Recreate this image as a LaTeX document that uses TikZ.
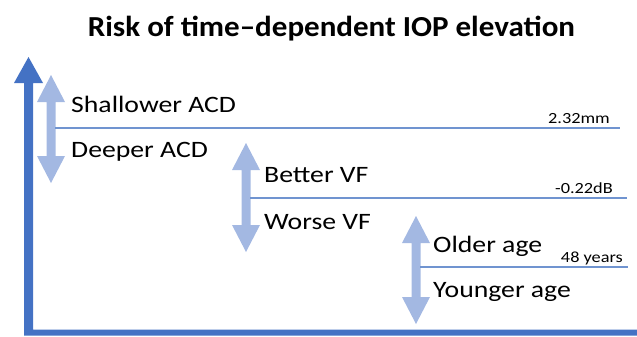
\documentclass[tikz,border=0pt]{standalone}
\usepackage{fontspec}
\setmainfont{Carlito}[FakeStretch=1.18]
\newfontfamily\titlefont{Carlito}[FakeStretch=1.07]
\definecolor{axisblue}{HTML}{4472C4}
\definecolor{arrowblue}{HTML}{A3B8E2}
\definecolor{lineblue}{HTML}{7094D0}
\newcommand\dblarrow[3]{\fill[arrowblue] (#1,#2) -- ++(14,27) -- ++(-9.5,0) -- (#1+4.5,#3-27) -- ++(9.5,0) -- (#1,#3) -- ++(-14,-27) -- ++(9.5,0) -- (#1-4.5,#2+27) -- ++(-9.5,0) -- cycle;}
\tikzset{
  lbl/.style={anchor=base west, inner sep=0pt, font=\fontsize{23.5}{26}\selectfont},
  val/.style={anchor=base east, inner sep=0pt, font=\fontsize{15.5}{18}\selectfont},
  sep/.style={draw=lineblue, line width=1.3pt},
}
\begin{document}
\begin{tikzpicture}[x=1pt,y=-1pt]
\useasboundingbox (0,0) rectangle (637,337);
% title
\node[anchor=base, inner sep=0pt, font=\titlefont\fontsize{29}{32}\selectfont\bfseries] (title) at (331.5,37) {Risk of time–dependent IOP elevation};
% axes
\fill[axisblue] (14,83) -- (28.5,57) -- (43,83) -- (33,83) -- (33,329.5) -- (637,329.5) -- (637,335.5) -- (24,335.5) -- (24,83) -- cycle;
% double arrows
\dblarrow{51}{75}{183}
\dblarrow{246}{143}{252}
\dblarrow{416}{216}{324}
% separators
\coordinate (l1a) at (55,128); \coordinate (l1b) at (620,128);
\coordinate (l2a) at (250,198); \coordinate (l2b) at (627,198);
\coordinate (l3a) at (420,267); \coordinate (l3b) at (628,267);
\draw[sep] (l1a) -- (l1b);
\draw[sep] (l2a) -- (l2b);
\draw[sep] (l3a) -- (l3b);
% labels
\node[lbl] (shallow) at (71,112) {Shallower ACD};
\node[lbl] (deep) at (71,157) {Deeper ACD};
\node[lbl] (better) at (264,182) {Better VF};
\node[lbl] (worse) at (264,229) {Worse VF};
\node[lbl] (older) at (433,252) {Older age};
\node[lbl] (younger) at (433,297) {Younger age};
% values
\node[val] (v1) at (610,123) {2.32mm};
\node[val] (v2) at (613,193) {-0.22dB};
\node[val] (v3) at (623,262) {48 years};
\end{tikzpicture}
\end{document}
